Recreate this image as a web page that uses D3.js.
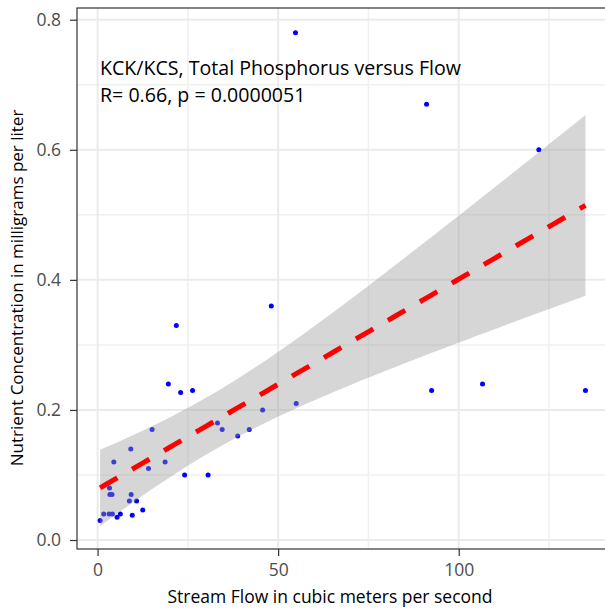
<!DOCTYPE html>
<html lang="en-US">
<head>
  <title>KCK/KCS Total Phosphorus versus Flow</title>
  <meta charset="UTF-8"/>
  <style>
    body { margin: 0; background: #fff; }
    text { font-family: "Open Sans", "Noto Sans", sans-serif; }
  </style>
</head>
<body>
<script src="https://cdn.jsdelivr.net/npm/d3@7"></script>
<script>

// stream flow (m3/s) and total phosphorus (mg/L)
var flow = [0.7, 1.7, 3.2, 4.1, 5.4, 6.3, 9.6, 12.5, 8.8, 10.8,
            3.4, 4.0, 9.3, 3.3, 4.5, 9.2, 14.1, 15.1, 18.7, 19.6,
            21.8, 23.0, 26.3, 24.1, 30.6, 33.2, 34.5, 38.8, 42.0, 45.7,
            48.1, 55.0, 54.8, 91.1, 92.5, 106.6, 122.2, 135.1];
var phos = [0.030, 0.040, 0.040, 0.040, 0.035, 0.040, 0.038, 0.046, 0.060, 0.060,
            0.070, 0.070, 0.070, 0.080, 0.120, 0.140, 0.110, 0.170, 0.120, 0.240,
            0.330, 0.227, 0.230, 0.100, 0.100, 0.180, 0.170, 0.160, 0.170, 0.200,
            0.360, 0.210, 0.780, 0.670, 0.230, 0.240, 0.600, 0.230];

var xTicks = [0, 50, 100], xMinor = [25, 75, 125];
var yTicks = [0, 0.2, 0.4, 0.6, 0.8], yMinor = [0.1, 0.3, 0.5, 0.7];
var title = ["KCK/KCS, Total Phosphorus versus Flow", "R= 0.66, p = 0.0000051"];

var W = 605, H = 611;
var panel = {left: 77, top: 8, right: 610, bottom: 549};

var x = d3.scaleLinear().domain([-5.7, 141.9]).range([panel.left, panel.right]);
var y = d3.scaleLinear().domain([-0.0138, 0.818]).range([panel.bottom, panel.top]);

var svg = d3.select("body").append("svg")
    .attr("width", W).attr("height", H);

svg.append("clipPath").attr("id", "clip")
  .append("rect")
    .attr("x", panel.left).attr("y", panel.top)
    .attr("width", panel.right - panel.left).attr("height", panel.bottom - panel.top);

var plot = svg.append("g").attr("clip-path", "url(#clip)");

// grid lines (minor then major)
plot.selectAll(".vminor").data(xMinor).enter().append("line")
    .attr("x1", d => x(d)).attr("x2", d => x(d))
    .attr("y1", panel.top).attr("y2", panel.bottom)
    .attr("stroke", "#f0f0f0").attr("stroke-width", 1.5);
plot.selectAll(".hminor").data(yMinor).enter().append("line")
    .attr("y1", d => y(d)).attr("y2", d => y(d))
    .attr("x1", panel.left).attr("x2", panel.right)
    .attr("stroke", "#f0f0f0").attr("stroke-width", 1.5);
plot.selectAll(".vmajor").data(xTicks).enter().append("line")
    .attr("x1", d => x(d)).attr("x2", d => x(d))
    .attr("y1", panel.top).attr("y2", panel.bottom)
    .attr("stroke", "#ebebeb").attr("stroke-width", 2);
plot.selectAll(".hmajor").data(yTicks).enter().append("line")
    .attr("y1", d => y(d)).attr("y2", d => y(d))
    .attr("x1", panel.left).attr("x2", panel.right)
    .attr("stroke", "#ebebeb").attr("stroke-width", 2);

// points
var pts = flow.map((f, i) => ({x: f, y: phos[i]}));
plot.selectAll("circle").data(pts).enter().append("circle")
    .attr("cx", d => x(d.x)).attr("cy", d => y(d.y))
    .attr("r", 2.5).attr("fill", "#0000ff");

// linear fit with 95% confidence band (like geom_smooth(method = "lm"))
var n = pts.length;
var mx = d3.mean(flow), my = d3.mean(phos);
var sxx = d3.sum(flow, f => (f - mx) * (f - mx));
var sxy = d3.sum(pts, d => (d.x - mx) * (d.y - my));
var slope = sxy / sxx, icept = my - slope * mx;
var s = Math.sqrt(d3.sum(pts, d => Math.pow(d.y - icept - slope * d.x, 2)) / (n - 2));
var tcrit = 2.028; // t(0.975, df = 36)
var xs = d3.range(80).map(i => d3.min(flow) + i * (d3.max(flow) - d3.min(flow)) / 79);
var fit = xs.map(function(v) {
  var yh = icept + slope * v;
  var se = s * Math.sqrt(1 / n + (v - mx) * (v - mx) / sxx);
  return {x: v, y: yh, lo: yh - tcrit * se, hi: yh + tcrit * se};
});

plot.append("path")
    .datum(fit)
    .attr("fill", "#999999").attr("fill-opacity", 0.4)
    .attr("d", d3.area().x(d => x(d.x)).y0(d => y(d.lo)).y1(d => y(d.hi)));

plot.append("path")
    .datum(fit)
    .attr("fill", "none").attr("stroke", "#ff0000")
    .attr("stroke-width", 5).attr("stroke-dasharray", "20,17")
    .attr("d", d3.line().x(d => x(d.x)).y(d => y(d.y)));

// panel border
svg.append("rect")
    .attr("x", panel.left).attr("y", panel.top)
    .attr("width", panel.right - panel.left).attr("height", panel.bottom - panel.top)
    .attr("fill", "none").attr("stroke", "#333333").attr("stroke-width", 1.2);

// axes
var xAxis = svg.append("g")
    .attr("transform", "translate(0," + panel.bottom + ")")
    .call(d3.axisBottom(x).tickValues(xTicks).tickSize(7).tickPadding(8).tickFormat(d3.format("d")));
var yAxis = svg.append("g")
    .attr("transform", "translate(" + panel.left + ",0)")
    .call(d3.axisLeft(y).tickValues(yTicks).tickSize(7).tickPadding(9).tickFormat(d3.format(".1f")));
[xAxis, yAxis].forEach(function(a) {
  a.select(".domain").remove();
  a.selectAll(".tick line").attr("stroke", "#333333").attr("stroke-width", 1.2);
  a.selectAll(".tick text").attr("fill", "#4d4d4d")
      .style("font-size", "17.5px").style("font-family", "'Open Sans', sans-serif");
});

// axis titles
svg.append("text")
    .attr("x", 330).attr("y", 603)
    .attr("text-anchor", "middle")
    .style("font-size", "17.5px")
    .text("Stream Flow in cubic meters per second");
svg.append("text")
    .attr("transform", "translate(23," + 288 + ") rotate(-90)")
    .attr("text-anchor", "middle")
    .style("font-size", "17px")
    .text("Nutrient Concentration in milligrams per liter");

// annotation
svg.selectAll(".note").data(title).enter().append("text")
    .attr("x", 100).attr("y", (d, i) => 75 + i * 26.5)
    .style("font-size", "19.6px").attr("fill", "#000")
    .text(d => d);

</script>
</body>
</html>
